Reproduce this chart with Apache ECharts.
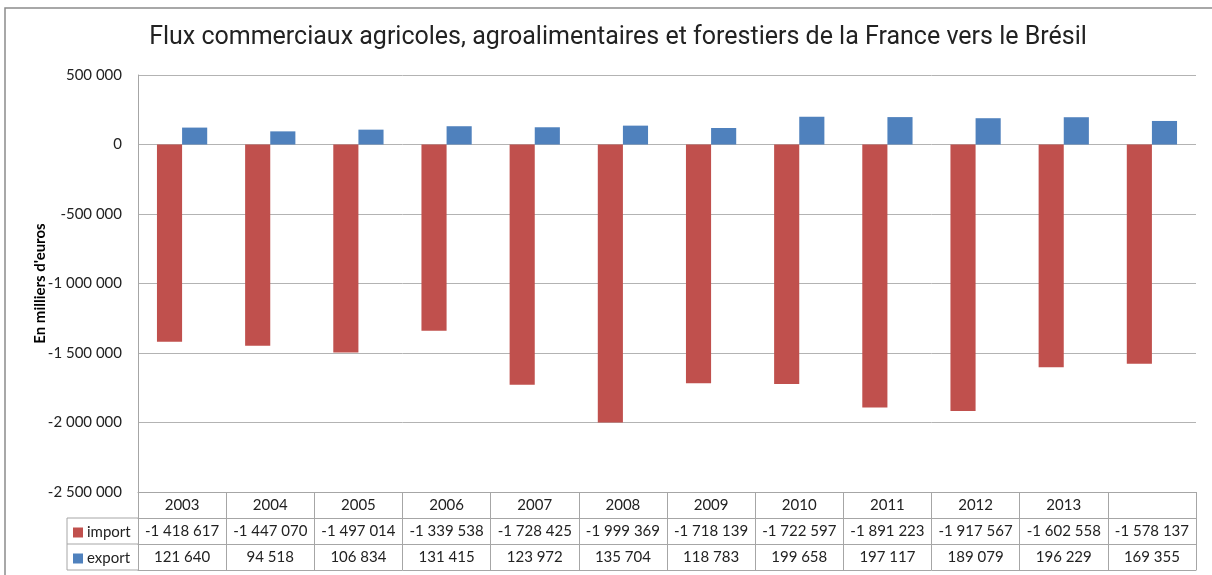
<!DOCTYPE html>
<html>
<head>
<meta charset="utf-8">
<script src="https://cdn.jsdelivr.net/npm/echarts@6/dist/echarts.min.js"></script>
<style>
html,body{margin:0;padding:0;background:#fff;}
#chart{width:1212px;height:575px;}
</style>
</head>
<body>
<div id="chart"></div>
<script>
const categories = ['2003','2004','2005','2006','2007','2008','2009','2010','2011','2012','2013',''];
const importValues = [-1418617,-1447070,-1497014,-1339538,-1728425,-1999369,-1718139,-1722597,-1891223,-1917567,-1602558,-1578137];
const exportValues = [121640,94518,106834,131415,123972,135704,118783,199658,197117,189079,196229,169355];
const yTicks = {min:-2500000, max:500000, interval:500000};

function fmt(v){
  const neg = v < 0;
  let s = Math.abs(Math.round(v)).toString();
  s = s.replace(/\B(?=(\d{3})+(?!\d))/g, ' ');
  return (neg ? '-' : '') + s;
}

const FONT = 'Lato';
const GRID = {left:138, right:16, top:75, bottom:83};
const ROW = 26;
const lineCol = '#a6a6a6';

const chart = echarts.init(document.getElementById('chart'), null, {renderer:'canvas'});

function tableAxis(offset, labels){
  return {
    type:'category', data:categories, position:'bottom', offset:offset,
    axisLine:{show:true, onZero:false, lineStyle:{color:lineCol, width:1}},
    axisTick:{show:false},
    axisLabel:{show: !!labels, interval:0, margin:6, fontFamily:FONT, fontSize:15, color:'#222',
      formatter:function(v, i){ return labels ? fmt(labels[i]) : ''; }},
    splitLine:{show:false}
  };
}

const option = {
  backgroundColor:'#fff',
  animation:false,
  title:{
    text:'Flux commerciaux agricoles, agroalimentaires et forestiers de la France vers le Brésil',
    left:613, textAlign:'center', top:20,
    textStyle:{fontFamily:'Roboto', fontWeight:'normal', fontSize:25, color:'#222'}
  },
  legend:{
    orient:'vertical', left:68, top:520, itemWidth:10, itemHeight:10, itemGap:11,
    icon:'rect', data:['import','export'],
    textStyle:{fontFamily:FONT, fontSize:15, color:'#222', padding:[0,0,0,-1]},
    selectedMode:false
  },
  grid:GRID,
  xAxis:[
    {
      type:'category', data:categories, position:'bottom',
      axisLine:{show:true, onZero:false, lineStyle:{color:lineCol, width:1}},
      axisTick:{show:true, interval:0, alignWithLabel:false, length:ROW*3, lineStyle:{color:lineCol}},
      axisLabel:{interval:0, margin:6, fontFamily:FONT, fontSize:15, color:'#222'},
      splitLine:{show:false}
    },
    tableAxis(ROW, importValues),
    tableAxis(ROW*2, exportValues),
    tableAxis(ROW*3, null)
  ],
  yAxis:{
    type:'value', min:yTicks.min, max:yTicks.max, interval:yTicks.interval,
    name:"En milliers d'euros", nameLocation:'middle', nameRotate:90, nameGap:90, nameMoveOverlap:false,
    nameTextStyle:{fontFamily:FONT, fontWeight:'bold', fontSize:15, color:'#000'},
    axisLine:{show:true, onZero:false, lineStyle:{color:lineCol}},
    axisTick:{show:false},
    axisLabel:{fontFamily:FONT, fontSize:15, color:'#222', margin:16, formatter:fmt},
    splitLine:{lineStyle:{color:'#b3b3b3', width:1}}
  },
  series:[
    {name:'import', type:'bar', data:importValues, xAxisIndex:0, barGap:'0%', barCategoryGap:'43%',
     itemStyle:{color:'#C0504D'}},
    {name:'export', type:'bar', data:exportValues, xAxisIndex:0, barGap:'0%', barCategoryGap:'43%',
     itemStyle:{color:'#4F81BD'}}
  ],
  graphic:[
    {type:'rect', shape:{x:5, y:8, width:1300, height:700}, style:{fill:'none', stroke:'#8c8c8c', lineWidth:1.5}, silent:true, z:-1},
    {type:'line', shape:{x1:67, y1:575-GRID.bottom+ROW, x2:GRID.left, y2:575-GRID.bottom+ROW}, style:{stroke:lineCol, lineWidth:1}},
    {type:'line', shape:{x1:67, y1:575-GRID.bottom+ROW*2, x2:GRID.left, y2:575-GRID.bottom+ROW*2}, style:{stroke:lineCol, lineWidth:1}},
    {type:'line', shape:{x1:67, y1:575-GRID.bottom+ROW*3, x2:GRID.left, y2:575-GRID.bottom+ROW*3}, style:{stroke:lineCol, lineWidth:1}},
    {type:'line', shape:{x1:67, y1:575-GRID.bottom+ROW, x2:67, y2:575-GRID.bottom+ROW*3}, style:{stroke:lineCol, lineWidth:1}}
  ]
};
chart.setOption(option);
</script>
</body>
</html>
